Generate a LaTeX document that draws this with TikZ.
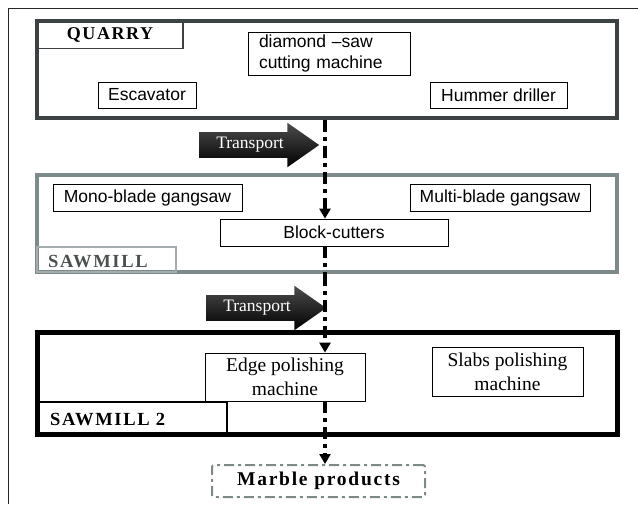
\documentclass[tikz,border=0pt]{standalone}
\usepackage{fontspec}
\setmainfont{Liberation Serif}
\setsansfont{Liberation Sans}
\newfontfamily\spacedserif[LetterSpace=9]{Liberation Serif}
\usetikzlibrary{positioning, shapes.arrows, arrows.meta}

\definecolor{quarrygray}{HTML}{3C4243}
\definecolor{millgray}{HTML}{7D8A8A}
\definecolor{labelgray}{HTML}{4A5050}

\begin{document}
\begin{tikzpicture}[x=1pt, y=-1pt,
  % Node Styles
  areabox/.style={rectangle, draw, line width=4.5pt, minimum width=580pt, inner sep=0pt},
  labelbox/.style={rectangle, draw, line width=1.2pt, inner sep=0pt, font=\spacedserif\fontsize{18}{18}\selectfont\bfseries},
  labeltext/.style={anchor=base west, inner sep=0pt, font=\spacedserif\fontsize{18.5}{18}\selectfont\bfseries},
  machine/.style={rectangle, draw, line width=0.8pt, inner sep=0pt, minimum height=27pt, align=center, font=\sffamily\fontsize{17.5}{21}\selectfont},
  serifmachine/.style={rectangle, draw, line width=0.8pt, inner sep=0pt, align=center, font=\fontsize{19.5}{24}\selectfont},
  transport/.style={single arrow, shade, top color=black!70, bottom color=black, draw=none, minimum height=120pt, minimum width=42pt, single arrow head extend=9.5pt, single arrow tip angle=70, inner xsep=4pt, inner ysep=5pt, text=white, font=\fontsize{17.5}{17}\selectfont},
  % Arrow Styles
  flowarrow/.style={line width=3.5pt, dash pattern=on 12pt off 5pt on 4pt off 5pt, -{Triangle[length=10pt, width=11pt]}},
  flowline/.style={line width=3.5pt, dash pattern=on 12pt off 5pt on 4pt off 5pt}
]
\useasboundingbox (0,0) rectangle (638,504);
\draw[line width=1pt, black!85] (8,504) -- (8,8) -- (638,8);

% Quarry
\node[areabox, draw=quarrygray, minimum height=97pt] (Quarry) at (327,69.5) {};
\node[labelbox, draw=quarrygray, minimum width=146pt, minimum height=27pt] (QuarryLabel) at (110,35) {QUARRY};
\node[machine, minimum width=162pt, minimum height=43pt, align=left, text width=140pt] (Diamond) at (329,53.5) {diamond --saw\\cutting machine};
\node[machine, minimum width=98pt, minimum height=26pt] (Escavator) at (147,95) {Escavator};
\node[machine, minimum width=137pt, minimum height=26pt] (Hummer) at (498.5,95) {Hummer driller};

% Sawmill
\node[areabox, draw=millgray, line width=4pt, minimum height=97pt] (Sawmill) at (327,223.5) {};
\node[machine, minimum width=189pt] (Mono) at (147.5,197.5) {Mono-blade gangsaw};
\node[machine, minimum width=180pt] (Multi) at (500,197.5) {Multi-blade gangsaw};
\node[machine, minimum width=228pt] (Block) at (334,232.5) {Block-cutters};
\node[labelbox, draw=millgray!70, minimum width=139pt, minimum height=25pt] (SawmillLabel) at (106.5,259.5) {};
\node[labeltext, text=labelgray] (SawmillText) at (48,267) {SAWMILL};

% Sawmill 2
\node[areabox, draw=black, line width=5pt, minimum height=102pt] (Sawmill2) at (327,383) {};
\node[serifmachine, minimum width=160pt, minimum height=48pt] (Edge) at (285,377) {Edge polishing\\machine};
\node[serifmachine, minimum width=151pt, minimum height=49pt] (Slabs) at (507.5,371.5) {Slabs polishing\\machine};
\node[labelbox, draw=black, minimum width=190pt, minimum height=32pt] (Sawmill2Label) at (132,418) {};
\node[labeltext] (Sawmill2Text) at (50,425) {SAWMILL 2};

% Products
\node[rectangle, rounded corners=2pt, draw=millgray, line width=2pt, dash pattern=on 10pt off 4pt on 3pt off 4pt, minimum width=213pt, minimum height=32pt, font=\spacedserif\fontsize{19.5}{19}\selectfont\bfseries] (Marble) at (318.5,481) {Marble products};

% Transport arrows
\node[transport] (Transport1) at (250,145) {Transport};
\node[transport] (Transport2) at (257,308) {Transport};

% Flow
\coordinate (flow) at (325,0);
\draw[flowarrow] (Quarry.south -| flow) -- (Block.north -| flow);
\draw[flowline] (Block.south -| flow) -- (Sawmill.south -| flow);
\draw[flowarrow] (Sawmill.south -| flow) -- (Edge.north -| flow);
\draw[flowarrow] (Edge.south -| flow) -- (Marble.north -| flow);
\end{tikzpicture}
\end{document}
